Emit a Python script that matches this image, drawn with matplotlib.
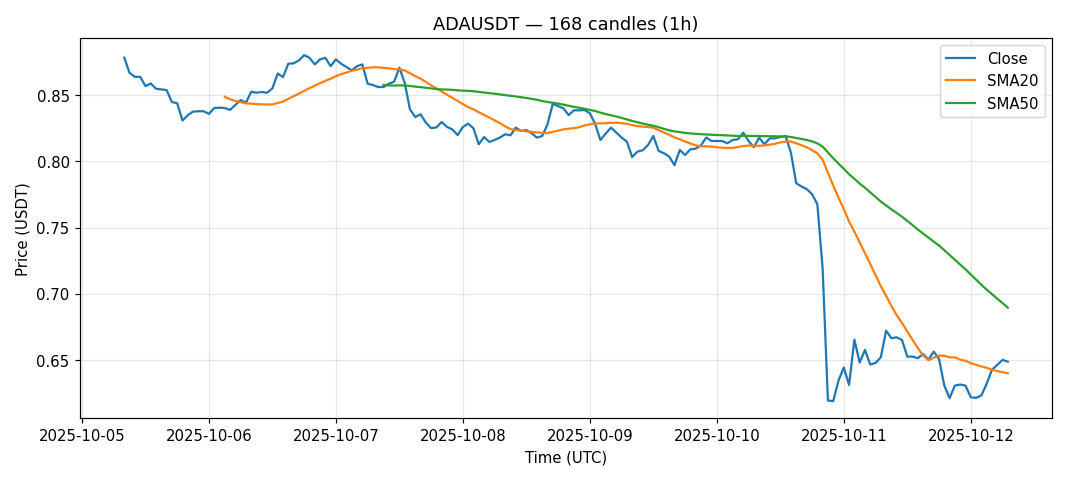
import pandas as pd
import matplotlib
matplotlib.use("Agg")
import matplotlib.pyplot as plt
import matplotlib.dates as mdates

symbol = "ADAUSDT"
interval = "1h"
start_time = "2025-10-05 08:00"

# hourly close prices
close = [
    0.8785, 0.8670, 0.8640, 0.8640, 0.8570, 0.8590, 0.8550, 0.8545, 0.8540, 0.8450,
    0.8440, 0.8310, 0.8350, 0.8377, 0.8380, 0.8380, 0.8360, 0.8404, 0.8407, 0.8404,
    0.8390, 0.8427, 0.8465, 0.8445, 0.8528, 0.8520, 0.8525, 0.8520, 0.8553, 0.8665,
    0.8638, 0.8739, 0.8742, 0.8764, 0.8804, 0.8784, 0.8734, 0.8772, 0.8784, 0.8721,
    0.8772, 0.8739, 0.8714, 0.8689, 0.8721, 0.8734, 0.8588, 0.8578, 0.8563, 0.8563,
    0.8588, 0.8603, 0.8709, 0.8596, 0.8394, 0.8336, 0.8357, 0.8294, 0.8252, 0.8258,
    0.8299, 0.8261, 0.8243, 0.8200, 0.8261, 0.8286, 0.8251, 0.8130, 0.8185, 0.8148,
    0.8163, 0.8181, 0.8206, 0.8198, 0.8256, 0.8231, 0.8238, 0.8213, 0.8181, 0.8193,
    0.8281, 0.8437, 0.8419, 0.8402, 0.8351, 0.8387, 0.8387, 0.8389, 0.8365, 0.8285,
    0.8162, 0.8211, 0.8256, 0.8218, 0.8181, 0.8150, 0.8034, 0.8075, 0.8085, 0.8125,
    0.8193, 0.8080, 0.8062, 0.8037, 0.7972, 0.8087, 0.8049, 0.8092, 0.8097, 0.8123,
    0.8181, 0.8155, 0.8155, 0.8155, 0.8138, 0.8163, 0.8168, 0.8218, 0.8155, 0.8108,
    0.8180, 0.8130, 0.8175, 0.8175, 0.8185, 0.8193, 0.8068, 0.7836, 0.7811, 0.7791,
    0.7753, 0.7677, 0.7190, 0.6193, 0.6188, 0.6344, 0.6442, 0.6311, 0.6653, 0.6480,
    0.6575, 0.6465, 0.6477, 0.6520, 0.6721, 0.6664, 0.6671, 0.6651, 0.6525, 0.6525,
    0.6513, 0.6545, 0.6502, 0.6563, 0.6508, 0.6306, 0.6211, 0.6306, 0.6314, 0.6306,
    0.6218, 0.6213, 0.6231, 0.6319, 0.6425, 0.6462, 0.6500, 0.6487,
]

times = pd.date_range(start_time, periods=len(close), freq="h")
df = pd.DataFrame({"close": close}, index=times)
df["sma20"] = df["close"].rolling(20).mean()
df["sma50"] = df["close"].rolling(50).mean()

fig, ax = plt.subplots(figsize=(10, 4.5), dpi=106.8)
fig.subplots_adjust(left=0.075, right=0.985, top=0.92, bottom=0.128)

ax.plot(df.index, df["close"], label="Close")
ax.plot(df.index, df["sma20"], label="SMA20")
ax.plot(df.index, df["sma50"], label="SMA50")

ax.set_title(f"{symbol} \u2014 {len(close)} candles ({interval})")
ax.set_xlabel("Time (UTC)")
ax.set_ylabel("Price (USDT)")
ax.xaxis.set_major_locator(mdates.DayLocator())
ax.xaxis.set_major_formatter(mdates.DateFormatter("%Y-%m-%d"))
ax.grid(True, alpha=0.3)
ax.legend(loc="upper right")

fig.savefig("out.png", dpi=106.8)
